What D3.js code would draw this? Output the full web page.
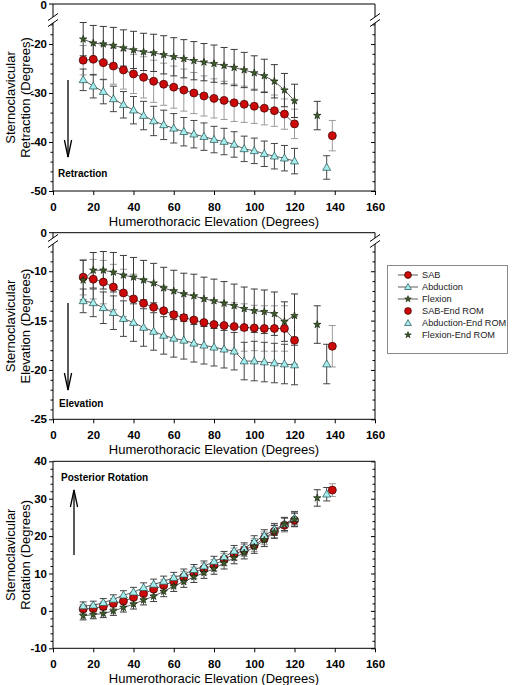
<!DOCTYPE html>
<html><head><meta charset="utf-8">
<script src="https://cdn.jsdelivr.net/npm/d3@7"></script>
<style>
body{margin:0;background:#fff;}
svg{display:block;font-family:"Liberation Sans",Arial,Helvetica,sans-serif;}
</style></head><body>
<svg id="c" width="512" height="685"></svg>
<script>
// ---------------- data ----------------
const elevations = [15,20,25,30,35,40,45,50,55,60,65,70,75,80,85,90,95,100,105,110,115,120];
const xTicks = [0,20,40,60,80,100,120,140,160];
const seriesNames = ["SAB","Abduction","Flexion"];
const legendLabels = ["SAB","Abduction","Flexion","SAB-End ROM","Abduction-End ROM","Flexion-End ROM"];
const endRomElevation = [138.8,136,131.3];   // SAB, Abduction, Flexion

// Retraction
const retractionSAB  = [-23.3,-23.1,-23.8,-24.5,-25.3,-26.1,-26.8,-27.6,-28.2,-28.8,-29.4,-30.0,-30.6,-31.1,-31.5,-32.0,-32.3,-32.7,-33.1,-33.6,-34.3,-36.3];
const retractionAbd  = [-27.3,-28.6,-29.7,-31.2,-32.4,-33.5,-34.6,-35.7,-36.5,-37.2,-37.9,-38.4,-38.9,-39.5,-39.9,-40.5,-41.4,-41.8,-42.4,-42.9,-43.3,-43.9];
const retractionFlex = [-19.0,-19.8,-20.0,-20.3,-20.8,-21.2,-21.6,-21.8,-22.2,-22.6,-23.0,-23.4,-23.7,-24.0,-24.4,-24.8,-25.3,-25.9,-26.5,-27.6,-29.4,-31.6];
const retractionSABsd  = [3.0,3.3,3.5,3.7,3.9,4.0,4.2,4.3,4.3,4.3,4.3,4.2,4.1,4.0,3.9,3.8,3.7,3.5,3.4,3.2,3.1,3.0];
const retractionAbdsd  = [2.2,2.4,2.5,2.6,2.7,2.8,2.9,3.0,3.0,3.0,2.9,2.8,2.8,2.7,2.7,2.6,2.6,2.6,2.6,2.6,2.6,2.6];
const retractionFlexsd = [3.4,3.6,3.6,3.7,3.7,3.8,3.8,3.8,3.9,3.9,3.9,3.9,3.8,3.8,3.7,3.7,3.6,3.5,3.4,3.4,3.4,3.4];
const retractionEnd   = [-38.7,-45.2,-34.6];
const retractionEndSd = [3.1,2.4,2.9];
const retractionTicks = [-50,-40,-30,-20];

// Elevation
const elevationSAB  = [-10.6,-10.8,-11.1,-11.6,-12.2,-12.8,-13.25,-13.65,-14.0,-14.4,-14.7,-14.95,-15.2,-15.4,-15.5,-15.6,-15.7,-15.75,-15.8,-15.8,-15.8,-17.0];
const elevationAbd  = [-13.0,-13.2,-13.7,-14.2,-14.8,-15.2,-15.7,-16.1,-16.5,-16.8,-17.0,-17.3,-17.5,-17.7,-17.9,-18.1,-19.1,-19.1,-19.2,-19.3,-19.4,-19.5];
const elevationFlex = [-10.9,-9.9,-9.9,-10.1,-10.4,-10.6,-10.9,-11.2,-11.7,-12.0,-12.3,-12.5,-12.8,-13.0,-13.25,-13.5,-13.8,-14.0,-14.1,-14.3,-15.1,-14.5];
const elevationSABsd  = [1.8,2.0,2.2,2.3,2.4,2.5,2.5,2.5,2.5,2.5,2.5,2.5,2.5,2.4,2.4,2.4,2.4,2.3,2.3,2.3,2.3,2.4];
const elevationAbdsd  = [1.2,1.4,1.6,1.7,1.8,1.9,1.9,1.9,1.9,1.9,1.9,1.9,1.9,1.9,1.9,1.9,1.9,2.0,2.0,2.0,2.0,2.0];
const elevationFlexsd = [2.0,1.8,1.9,2.0,2.0,2.0,2.0,2.0,2.1,2.1,2.1,2.2,2.2,2.2,2.2,2.2,2.2,2.2,2.2,2.2,2.0,2.2];
const elevationEnd   = [-17.6,-19.4,-15.4];
const elevationEndSd = [2.1,2.0,1.9];
const elevationTicks = [-25,-20,-15,-10];

// Rotation
const rotationSAB  = [0.5,0.6,1.2,2.0,2.6,3.6,4.6,5.8,6.8,7.9,9.1,10.2,11.3,12.2,13.8,15.2,16.2,17.6,19.4,21.3,22.9,24.25];
const rotationAbd  = [1.3,1.5,2.2,3.1,4.2,5.0,6.2,7.1,7.9,8.9,9.8,11.0,11.95,13.2,14.4,16.0,16.7,18.5,20.1,21.8,23.2,24.8];
const rotationFlex = [-1.3,-1.0,-0.7,0.0,0.9,1.8,2.9,3.9,5.2,6.6,7.8,9.1,10.2,11.3,12.8,14.2,15.5,17.1,18.9,21.1,23.2,24.4];
const rotationSABsd  = [1.2,1.2,1.2,1.3,1.3,1.4,1.4,1.5,1.5,1.5,1.5,1.5,1.5,1.5,1.6,1.6,1.6,1.7,1.7,1.7,1.8,1.8];
const rotationAbdsd  = [1.1,1.1,1.1,1.2,1.2,1.3,1.3,1.4,1.4,1.4,1.4,1.4,1.4,1.4,1.5,1.5,1.5,1.6,1.6,1.6,1.7,1.8];
const rotationFlexsd = [1.1,1.1,1.1,1.2,1.2,1.3,1.3,1.4,1.4,1.4,1.5,1.5,1.5,1.5,1.6,1.6,1.6,1.7,1.7,1.7,1.8,1.8];
const rotationEnd   = [32.3,31.2,30.2];
const rotationEndSd = [1.7,1.8,2.2];
const rotationTicks = [-10,0,10,20,30,40];

// ---------------- drawing ----------------
const svg = d3.select("#c");
const X0 = 53, X1 = 375;
const x = d3.scaleLinear().domain([0,160]).range([X0,X1]);

const styles = {
  SAB:       {fill:"#cc0a0a", stroke:"#3a0000", bar:"#9a9a9a", sym:"circle"},
  Abduction: {fill:"#a6eeee", stroke:"#1f4f4f", bar:"#454545", sym:"triangle"},
  Flexion:   {fill:"#3f5f2a", stroke:"#17250f", bar:"#3a3a3a", sym:"star"}
};

function marker(g, sym, cx, cy, st, scale){
  scale = scale||1;
  if(sym==="circle"){
    g.append("circle").attr("cx",cx).attr("cy",cy).attr("r",4.0*scale)
      .attr("fill",st.fill).attr("stroke",st.stroke).attr("stroke-width",0.7);
  } else {
    const t = sym==="triangle" ? d3.symbolTriangle : d3.symbolStar;
    const size = sym==="triangle" ? 28*scale*scale : 17*scale*scale;
    g.append("path").attr("d", d3.symbol().type(t).size(size)())
      .attr("transform",`translate(${cx},${cy + (sym==="triangle"?0.5:0)})`)
      .attr("fill",st.fill).attr("stroke",st.stroke).attr("stroke-width",0.7);
  }
}

function drawPanel(p){
  const g = svg.append("g");
  const y = d3.scaleLinear().domain(p.domain).range([p.bottom, p.lowTop]);
  const line = (x1,y1,x2,y2,c,w)=>g.append("line").attr("x1",x1).attr("y1",y1).attr("x2",x2).attr("y2",y2)
      .attr("stroke",c||"#000").attr("stroke-width",w||1);

  // frame
  line(X0,p.top,X1,p.top);
  line(X0,p.bottom,X1,p.bottom);
  [X0,X1].forEach(ax=>{
    if(p.brk){
      line(ax,p.top,ax,p.gapA);
      line(ax,p.gapB,ax,p.bottom);
      line(ax-5,p.gapA+3.5,ax+5,p.gapA-3.5);
      line(ax-5,p.gapB+3.5,ax+5,p.gapB-3.5);
    } else line(ax,p.top,ax,p.bottom);
  });

  // axes
  const fmt = d=>String(d);
  const la = g.append("g").attr("transform",`translate(${X0},0)`)
    .call(d3.axisLeft(y).tickValues(p.ticks).tickSize(4).tickPadding(2).tickFormat(fmt));
  const lm = g.append("g").attr("transform",`translate(${X0},0)`)
    .call(d3.axisLeft(y).tickValues(p.minor).tickSize(2.5).tickFormat(""));
  const ra = g.append("g").attr("transform",`translate(${X1},0)`)
    .call(d3.axisLeft(y).tickValues(p.ticks).tickSize(4).tickFormat(""));
  const rm = g.append("g").attr("transform",`translate(${X1},0)`)
    .call(d3.axisLeft(y).tickValues(p.minor).tickSize(2.5).tickFormat(""));
  const xa = g.append("g").attr("transform",`translate(0,${p.bottom})`)
    .call(d3.axisBottom(x).tickValues(xTicks).tickSize(4).tickPadding(8).tickFormat(fmt));
  [la,lm,ra,rm,xa].forEach(a=>{ a.select(".domain").remove(); a.selectAll("line").attr("stroke","#000"); });
  [la,xa].forEach(a=>a.selectAll("text").attr("font-size","11.5px").attr("font-weight","bold").attr("fill","#000"));
  if(p.brk){
    line(X0-4,p.top,X0,p.top);
    g.append("text").attr("x",X0-6).attr("y",Math.max(p.top+4,8.6)).attr("text-anchor","end")
      .attr("font-size","11.5px").attr("font-weight","bold").text(String(p.topValue));
  }

  // titles
  g.append("text").attr("x",(X0+X1)/2).attr("y",p.bottom+35).attr("text-anchor","middle")
    .attr("font-size","13px").text("Humerothoracic Elevation (Degrees)");
  const cy = (p.top+p.bottom)/2;
  g.append("text").attr("transform",`translate(15,${cy}) rotate(-90)`).attr("text-anchor","middle")
    .attr("font-size","13px").text("Sternoclavicular");
  g.append("text").attr("transform",`translate(29.5,${cy}) rotate(-90)`).attr("text-anchor","middle")
    .attr("font-size","13px").text(p.title);

  // annotation arrow
  const a = p.arrow;
  line(a.x,a.y1,a.x,a.y2,"#000",1.3);
  const dir = a.y2>a.y1 ? -1 : 1;
  g.append("path").attr("d",`M${a.x-3.6},${a.y2+dir*17}L${a.x},${a.y2}L${a.x+3.6},${a.y2+dir*17}`)
    .attr("fill","none").attr("stroke","#000").attr("stroke-width",1.3);
  g.append("text").attr("x",a.tx).attr("y",a.ty).attr("font-size","10px").attr("font-weight","bold").text(a.label);

  // data
  const series = seriesNames.map((n,i)=>({name:n, vals:p.vals[i], sd:p.sd[i], end:p.end[i], endSd:p.endSd[i], endX:endRomElevation[i]}));
  const cap = 3.5;
  [0,2,1].forEach(i=>{
    const s = series[i], st = styles[s.name];
    const pts = elevations.map((e,j)=>({x:e,v:s.vals[j],sd:s.sd[j]})).concat([{x:s.endX,v:s.end,sd:s.endSd}]);
    pts.forEach(d=>{
      const yt=y(d.v+d.sd), yb=y(d.v-d.sd), xx=x(d.x);
      line(xx,yt,xx,yb,st.bar,1);
      line(xx-cap,yt,xx+cap,yt,st.bar,1);
      line(xx-cap,yb,xx+cap,yb,st.bar,1);
    });
  });
  const lg = d3.line().x(d=>x(d[0])).y(d=>y(d[1]));
  series.forEach(s=>{
    g.append("path").attr("d",lg(elevations.map((e,j)=>[e,s.vals[j]])))
      .attr("fill","none").attr("stroke","#333").attr("stroke-width",0.8);
  });
  series.forEach(s=>{
    const st = styles[s.name];
    elevations.forEach((e,j)=>marker(g,st.sym,x(e),y(s.vals[j]),st));
    marker(g,st.sym,x(s.endX),y(s.end),st);
  });
}

const range = (a,b,st)=>d3.range(a,b+1e-9,st);

drawPanel({top:4,bottom:191,lowTop:22,domain:[-50,-15.5],brk:true,gapA:17,gapB:23,topValue:0,
  ticks:retractionTicks, minor:range(-48,-16,2).filter(v=>v%10!==0),
  title:"Retraction (Degrees)",
  vals:[retractionSAB,retractionAbd,retractionFlex], sd:[retractionSABsd,retractionAbdsd,retractionFlexsd],
  end:retractionEnd, endSd:retractionEndSd,
  arrow:{x:68,y1:80,y2:157,tx:58,ty:177,label:"Retraction"}});

drawPanel({top:232.7,bottom:419.3,lowTop:244.1,domain:[-25,-7.25],brk:true,gapA:238,gapB:244,topValue:0,
  ticks:elevationTicks, minor:range(-24,-8,1).filter(v=>v%5!==0),
  title:"Elevation (Degrees)",
  vals:[elevationSAB,elevationAbd,elevationFlex], sd:[elevationSABsd,elevationAbdsd,elevationFlexsd],
  end:elevationEnd, endSd:elevationEndSd,
  arrow:{x:68,y1:303,y2:390,tx:59,ty:407,label:"Elevation"}});

drawPanel({top:461.3,bottom:648.3,lowTop:461.3,domain:[-10,40],brk:false,
  ticks:rotationTicks, minor:range(-8,38,2).filter(v=>v%10!==0),
  title:"Rotation (Degrees)",
  vals:[rotationSAB,rotationAbd,rotationFlex], sd:[rotationSABsd,rotationAbdsd,rotationFlexsd],
  end:rotationEnd, endSd:rotationEndSd,
  arrow:{x:74,y1:555,y2:490,tx:61,ty:481,label:"Posterior Rotation"}});

// legend
const lgd = svg.append("g");
lgd.append("rect").attr("x",387.5).attr("y",265.5).attr("width",120).attr("height",88)
  .attr("fill","#fff").attr("stroke","#8a8a8a").attr("stroke-width",1);
legendLabels.forEach((lab,i)=>{
  const yy = 275 + i*12;
  const st = styles[seriesNames[i%3]];
  if(i<3) lgd.append("line").attr("x1",398).attr("x2",418).attr("y1",yy).attr("y2",yy).attr("stroke","#333").attr("stroke-width",0.8);
  marker(lgd,st.sym,408,yy,st,0.85);
  lgd.append("text").attr("x",422).attr("y",yy).attr("dy","0.35em").attr("font-size","9.2px").attr("fill","#222").text(lab);
});
</script>
</body></html>
